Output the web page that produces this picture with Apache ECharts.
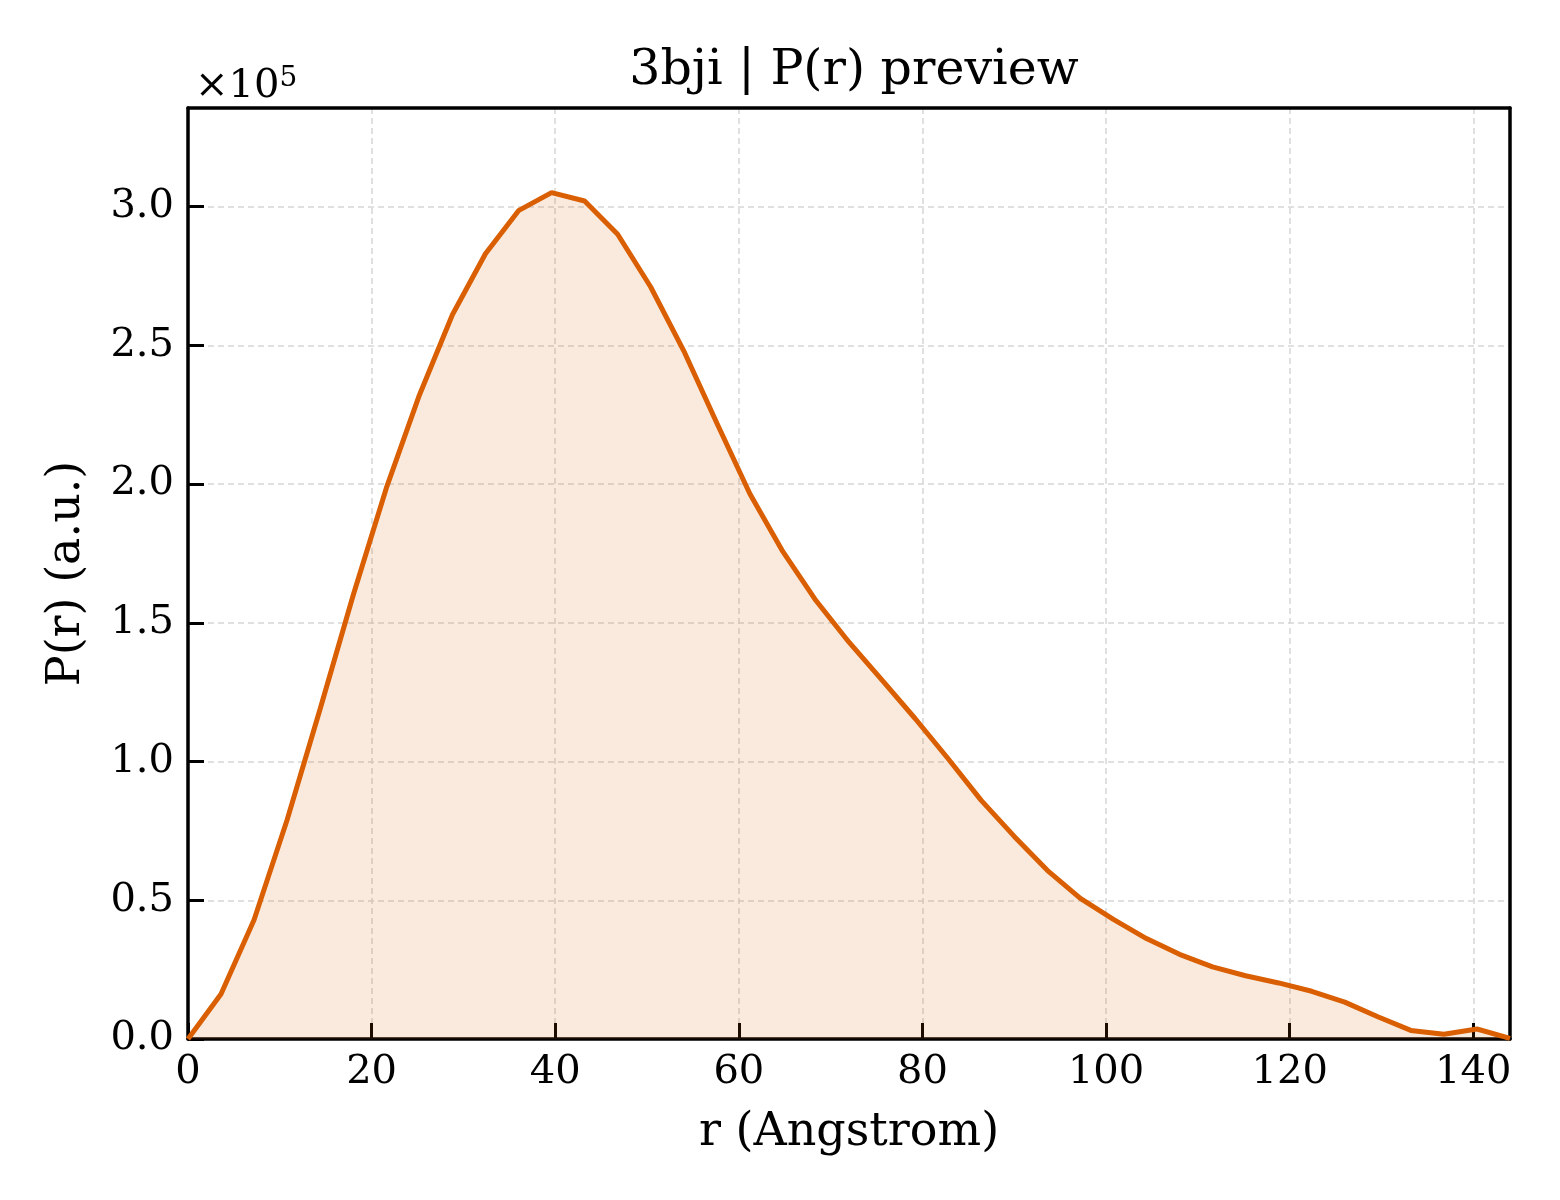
<!DOCTYPE html>
<html>
<head>
<meta charset="utf-8">
<script src="https://cdn.jsdelivr.net/npm/echarts@6/dist/echarts.min.js"></script>
<style>
html,body{margin:0;padding:0;background:#fff;}
#chart{width:1560px;height:1200px;}
</style>
</head>
<body>
<div id="chart"></div>
<script>
var titleText = '3bji | P(r) preview';
var xAxisName = 'r (Angstrom)';
var yAxisName = 'P(r) (a.u.)';
var rValues = [0, 3.6, 7.2, 10.8, 14.4, 18, 21.6, 25.2, 28.8, 32.4, 36, 39.6, 43.2, 46.8, 50.4, 54, 57.6, 61.2, 64.8, 68.4, 72, 75.6, 79.2, 82.8, 86.4, 90, 93.6, 97.2, 100.8, 104.4, 108, 111.6, 115.2, 118.8, 122.4, 126, 129.6, 133.2, 136.8, 140.4, 144];
var pValues = [0, 16200, 43000, 79000, 119000, 160000, 198500, 232000, 261000, 283000, 298500, 305000, 302000, 290000, 271000, 248000, 222000, 196500, 175600, 158000, 143000, 129300, 115500, 101000, 86000, 73000, 60800, 50700, 43100, 36200, 30500, 26000, 22800, 20200, 17200, 13300, 8000, 3100, 1700, 3600, 200];
var yScale = 1e5;
var xMin = 0, xMax = 144, xStep = 20;
var yMin = 0, yMax = 335500, yStep = 50000;

var FONT = 'DejaVu Serif';
var data = rValues.map(function (r, i) { return [r, pValues[i]]; });

var spineOnly = {
  axisLine: {show: true, onZero: false, lineStyle: {color: '#000', width: 3.5}},
  axisTick: {show: false}, axisLabel: {show: false}, splitLine: {show: false}
};

var chart = echarts.init(document.getElementById('chart'), null, {renderer: 'canvas'});
chart.setOption({
  backgroundColor: '#ffffff',
  animation: false,
  title: [
    {
      text: titleText,
      left: 849, top: 42, textAlign: 'center',
      textStyle: {fontFamily: FONT, fontSize: 49, fontWeight: 'normal', color: '#000'}
    },
    {
      text: '×10{sup|5}',
      left: 190, top: 60,
      textStyle: {
        fontFamily: FONT, fontSize: 40, fontWeight: 'normal', color: '#000',
        rich: {sup: {fontFamily: FONT, fontSize: 28, verticalAlign: 'top', padding: [0, 0, 16, 0], color: '#000'}}
      }
    }
  ],
  grid: {
    left: 188, right: 50, top: 108, bottom: 161
  },
  xAxis: [{
    type: 'value', min: xMin, max: xMax, interval: xStep,
    name: xAxisName, nameLocation: 'middle', nameGap: 71,
    nameTextStyle: {fontFamily: FONT, fontSize: 46, color: '#000'},
    axisLine: {show: true, onZero: false, lineStyle: {color: '#000', width: 3.5}},
    axisTick: {show: true, inside: true, length: 16, lineStyle: {color: '#000', width: 3}},
    axisLabel: {fontFamily: FONT, fontSize: 40, color: '#000', margin: 14, showMaxLabel: false},
    splitLine: {show: true, showMinLine: false, showMaxLine: false, lineStyle: {color: '#d6d6d6', width: 1.5, type: [6, 4]}}
  }, Object.assign({
    type: 'value', min: xMin, max: xMax, interval: xStep, position: 'top'
  }, spineOnly)],
  yAxis: [{
    type: 'value', min: yMin, max: yMax, interval: yStep,
    name: yAxisName, nameLocation: 'middle', nameGap: 98,
    nameTextStyle: {fontFamily: FONT, fontSize: 46, color: '#000'},
    axisLine: {show: true, onZero: false, lineStyle: {color: '#000', width: 3.5}},
    axisTick: {show: true, inside: true, length: 16, lineStyle: {color: '#000', width: 3}},
    axisLabel: {
      fontFamily: FONT, fontSize: 40, color: '#000', margin: 14, showMaxLabel: false,
      formatter: function (v) { return (v / yScale).toFixed(1); }
    },
    splitLine: {show: true, showMinLine: false, showMaxLine: false, lineStyle: {color: '#d6d6d6', width: 1.5, type: [6, 4]}}
  }, Object.assign({
    type: 'value', min: yMin, max: yMax, interval: yStep, position: 'right'
  }, spineOnly)],
  series: [{
    type: 'line',
    data: data,
    showSymbol: false,
    smooth: false,
    lineStyle: {color: '#d95f02', width: 5},
    areaStyle: {color: '#d95f02', opacity: 0.13},
    z: 3
  }]
});
</script>
</body>
</html>
